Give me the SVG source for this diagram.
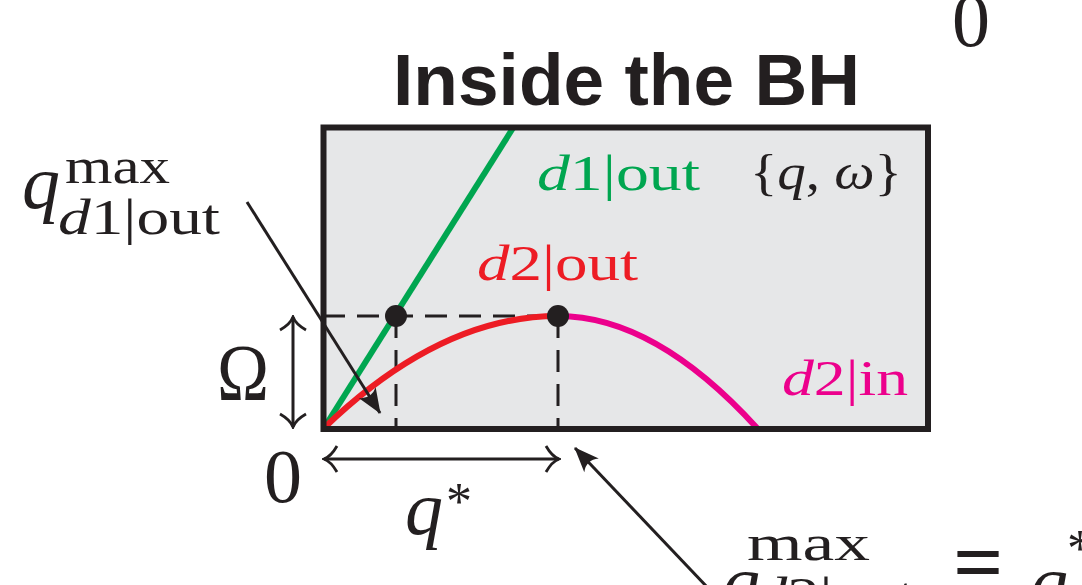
<svg xmlns="http://www.w3.org/2000/svg" width="1082" height="585" viewBox="0 0 1082 585">
<style>
.m{font-family:"Liberation Serif","DejaVu Serif",serif;fill:#231f20}
.big{font-size:76px}
.sm{font-size:50px}
.it{font-style:italic}
.ln{stroke:#231f20;stroke-width:3;fill:none}
.dash{stroke:#231f20;stroke-width:3;fill:none;stroke-dasharray:22 12}
</style>
<defs>
<marker id="hook" viewBox="-16 -16 18 32" refX="0" refY="0" markerWidth="18" markerHeight="32" markerUnits="userSpaceOnUse" orient="auto-start-reverse">
<path d="M-13,-13 C-9,-6 -4,-1.5 0,0 C-4,1.5 -9,6 -13,13" fill="none" stroke="#231f20" stroke-width="2.8"/>
</marker>
<marker id="head" viewBox="-26 -12 28 24" refX="0" refY="0" markerWidth="28" markerHeight="24" markerUnits="userSpaceOnUse" orient="auto">
<path d="M1,0 L-24,-10 Q-16,0 -24,10 Z" fill="#231f20"/>
</marker>
</defs>
<text x="393" y="105" font-family="Liberation Sans, Arial, sans-serif" font-weight="bold" font-size="72" fill="#231f20" textLength="467" lengthAdjust="spacingAndGlyphs">Inside the BH</text>
<text class="m big" x="952" y="46">0</text>
<g id="box">
<rect x="323.5" y="127.5" width="604.5" height="301.5" fill="#e6e7e8" stroke="none"/>
</g>
<g id="curves">
<path d="M323,316 H558" class="dash"/>
<path d="M396,316 V428" class="dash"/>
<path d="M558,316 V428" class="dash"/>
<line x1="324" y1="428" x2="513" y2="128" stroke="#00a650" stroke-width="6"/>
<path d="M324,428 Q440.5,316 558,316" fill="none" stroke="#ed1c24" stroke-width="6"/>
<path d="M558,316 Q655,316 757,428" fill="none" stroke="#ec008c" stroke-width="6"/>
<circle cx="396" cy="316" r="11" fill="#231f20"/>
<circle cx="558" cy="316" r="11" fill="#231f20"/>
</g>
<g id="frame">
<rect x="323.5" y="127.5" width="604.5" height="301.5" fill="none" stroke="#231f20" stroke-width="6"/>
</g>
<g id="labels-in">
<text class="m sm" x="537" y="190" style="fill:#00a650" textLength="163" lengthAdjust="spacingAndGlyphs"><tspan class="it">d</tspan>1|out</text>
<text class="m sm" x="750" y="189" font-size="54" textLength="152" lengthAdjust="spacingAndGlyphs">{<tspan class="it">q</tspan>, <tspan class="it">ω</tspan>}</text>
<text class="m sm" x="477" y="280" style="fill:#ed1c24" textLength="161" lengthAdjust="spacingAndGlyphs"><tspan class="it">d</tspan>2|out</text>
<text class="m sm" x="782" y="395" style="fill:#ec008c" textLength="126" lengthAdjust="spacingAndGlyphs"><tspan class="it">d</tspan>2|in</text>
</g>
<g id="connectors">
<line x1="293" y1="317" x2="293" y2="427" class="ln" marker-start="url(#hook)" marker-end="url(#hook)"/>
<line x1="324" y1="459" x2="559" y2="459" class="ln" marker-start="url(#hook)" marker-end="url(#hook)"/>
<line x1="247" y1="202" x2="380" y2="413" class="ln" marker-end="url(#head)"/>
<line x1="708" y1="588" x2="575" y2="448" class="ln" marker-end="url(#head)"/>
</g>
<g id="axis-labels">
<text class="m" x="217" y="400" font-size="80" textLength="52" lengthAdjust="spacingAndGlyphs">Ω</text>
<text class="m big" x="264" y="502">0</text>
<text class="m big it" x="405" y="534">q</text>
<text class="m" x="446" y="519" font-size="52">*</text>
</g>
<g id="label-d1">
<text class="m big it" x="22" y="208">q</text>
<text class="m sm" x="65" y="183" textLength="105" lengthAdjust="spacingAndGlyphs">max</text>
<text class="m sm" x="58" y="234" textLength="162" lengthAdjust="spacingAndGlyphs"><tspan class="it">d</tspan>1|out</text>
</g>
<g id="label-d2">
<text class="m big it" x="722" y="608">q</text>
<text class="m sm" x="747" y="560" textLength="123" lengthAdjust="spacingAndGlyphs">max</text>
<text class="m sm" x="755" y="612" textLength="160" lengthAdjust="spacingAndGlyphs"><tspan class="it">d</tspan>2|out</text>
<text class="m" x="953" y="611" font-size="120" textLength="50" lengthAdjust="spacingAndGlyphs">≡</text>
<text class="m big it" x="1030" y="608">q</text>
<text class="m" x="1067" y="566" font-size="52">*</text>
</g>
</svg>
